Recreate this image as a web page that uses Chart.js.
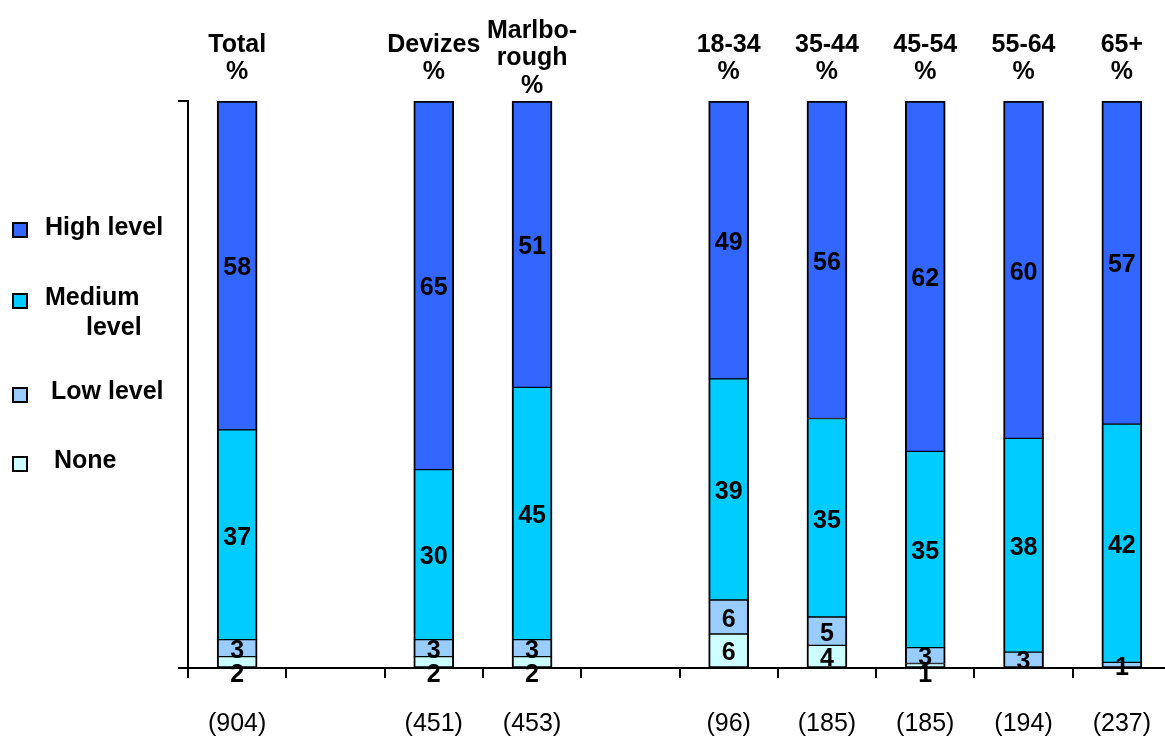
<!DOCTYPE html>
<html>
<head>
<meta charset="utf-8">
<script src="https://cdn.jsdelivr.net/npm/chart.js@4/dist/chart.umd.min.js"></script>
<style>
  html, body { margin: 0; padding: 0; background: #fff; overflow: hidden; }
  #wrap { position: relative; width: 1176px; height: 740px; }
  .leg { position: absolute; font: bold 25px "Liberation Sans", Arial, sans-serif; line-height: 30px; color: #000; white-space: nowrap; }
  .sq { position: absolute; width: 12px; height: 12px; border: 2px solid #000; }
</style>
</head>
<body>
<div id="wrap">
  <canvas id="chart" width="1176" height="740"></canvas>
  <div class="sq" style="left:12px;top:222px;background:#3366FF"></div>
  <div class="leg" style="left:45px;top:211px">High level</div>
  <div class="sq" style="left:12px;top:293px;background:#00CCFF"></div>
  <div class="leg" style="left:45px;top:281px">Medium</div>
  <div class="leg" style="left:86px;top:311px">level</div>
  <div class="sq" style="left:12px;top:387px;background:#99CCFF"></div>
  <div class="leg" style="left:51px;top:375px">Low level</div>
  <div class="sq" style="left:12px;top:456px;background:#CCFFFF"></div>
  <div class="leg" style="left:54px;top:444px">None</div>
</div>
<script>
// columns, with empty slots for the gaps between groups
const categories = ['Total', '', 'Devizes', 'Marlborough', '', '18-34', '35-44', '45-54', '55-64', '65+'];
const topLabels = [['Total', '%'], '', ['Devizes', '%'], ['Marlbo-', 'rough', '%'], '', ['18-34', '%'], ['35-44', '%'], ['45-54', '%'], ['55-64', '%'], ['65+', '%']];
const baseLabels = ['(904)', '', '(451)', '(453)', '', '(96)', '(185)', '(185)', '(194)', '(237)'];

// percentages (bottom to top)
const none   = [2, null, 2, 2, null, 6, 4, 0.8, 0, 0];
const low    = [3, null, 3, 3, null, 6, 5, 2.8, 2.8, 1];
const medium = [37, null, 30, 44.5, null, 39, 35, 34.6, 37.7, 42];
const high   = [58, null, 65, 50.5, null, 49, 56, 61.8, 59.5, 57];

const FONT = '"Liberation Sans", Arial, sans-serif';

const valueLabels = {
  id: 'valueLabels',
  afterDatasetsDraw(chart) {
    const ctx = chart.ctx;
    ctx.save();
    ctx.font = 'bold 25px ' + FONT;
    ctx.fillStyle = '#000';
    ctx.textAlign = 'center';
    ctx.textBaseline = 'middle';
    chart.data.datasets.forEach((ds, i) => {
      chart.getDatasetMeta(i).data.forEach((bar, j) => {
        const v = ds.data[j];
        if (!v) return;
        let y = (bar.y + bar.base) / 2;
        // tiny "None" slices get their label pushed down onto the axis
        if (i === 0 && Math.abs(bar.base - bar.y) < 15) y = bar.base + 5;
        ctx.fillText(Math.round(v), bar.x, y + 3);
      });
    });
    ctx.restore();
  }
};

const noSidePad = s => { s.paddingLeft = 0; s.paddingRight = 0; };

new Chart(document.getElementById('chart'), {
  type: 'bar',
  data: {
    labels: categories,
    datasets: [
      { label: 'None', data: none, backgroundColor: '#CCFFFF' },
      { label: 'Low level', data: low, backgroundColor: '#99CCFF' },
      { label: 'Medium level', data: medium, backgroundColor: '#00CCFF' },
      { label: 'High level', data: high, backgroundColor: '#3366FF' }
    ].map((d, i) => Object.assign(d, {
      borderColor: '#000',
      borderWidth: { left: 2, right: 2, top: i === 3 ? 2 : 1, bottom: 1 },
      borderSkipped: false, barThickness: 40, xAxisID: 'x'
    }))
  },
  options: {
    responsive: false,
    animation: false,
    layout: { padding: { left: 0, right: 5, top: 0, bottom: 0 } },
    plugins: { legend: { display: false }, tooltip: { enabled: false } },
    scales: {
      x: {
        stacked: true,
        position: 'bottom',
        offset: true,
        afterFit: s => { s.height = 72; noSidePad(s); },
        grid: { offset: true, drawOnChartArea: false, tickLength: 10, color: '#000', lineWidth: 2 },
        border: { color: '#000', width: 2 },
        ticks: {
          autoSkip: false, maxRotation: 0, padding: 31, color: '#000',
          font: { family: FONT, size: 25, lineHeight: 1.2 },
          callback: (v, i) => baseLabels[i]
        }
      },
      x2: {
        type: 'category',
        labels: topLabels,
        position: 'top',
        offset: true,
        afterFit: s => { s.height = 101; noSidePad(s); },
        grid: { display: false, drawTicks: false },
        border: { display: false },
        ticks: {
          autoSkip: false, maxRotation: 0, padding: 15, color: '#000', crossAlign: 'center',
          font: { family: FONT, size: 25, weight: 'bold', lineHeight: 1.1 }
        }
      },
      y: {
        stacked: true,
        min: 0,
        max: 100,
        afterFit: s => { s.width = 188; },
        grid: { drawOnChartArea: false, tickLength: 10, color: '#000', lineWidth: 2 },
        border: { color: '#000', width: 2 },
        ticks: { stepSize: 100, callback: () => '' }
      }
    }
  },
  plugins: [valueLabels]
});
</script>
</body>
</html>
